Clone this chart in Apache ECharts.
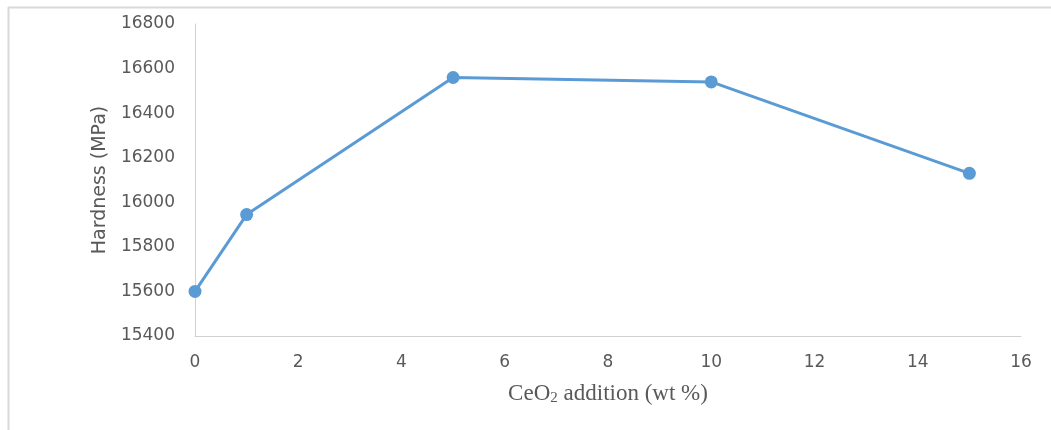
<!DOCTYPE html>
<html>
<head>
<meta charset="utf-8">
<script src="https://cdn.jsdelivr.net/npm/echarts@6/dist/echarts.min.js"></script>
<style>html,body{margin:0;padding:0;background:#fff;}#c{width:1051px;height:430px;}</style>
</head>
<body>
<div id="c"></div>
<script>
const ceo2 = [0, 1, 5, 10, 15];
const hardness = [15600, 15945, 16560, 16540, 16130];
const xTicks = [0, 2, 4, 6, 8, 10, 12, 14, 16];
const yTicks = [15400, 15600, 15800, 16000, 16200, 16400, 16600, 16800];

const chart = echarts.init(document.getElementById('c'));
chart.setOption({
  animation: false,
  backgroundColor: '#fff',
  graphic: [
    { type: 'line', shape: { x1: 8, y1: 7.5, x2: 1051, y2: 7.5 }, style: { stroke: '#d9d9d9', lineWidth: 2 } },
    { type: 'line', shape: { x1: 8.5, y1: 7, x2: 8.5, y2: 430 }, style: { stroke: '#d9d9d9', lineWidth: 2 } }
  ],
  grid: { left: 195, right: 30, top: 24, bottom: 94, containLabel: false },
  xAxis: {
    type: 'value',
    min: xTicks[0], max: xTicks[xTicks.length - 1], interval: 2,
    axisLine: { show: true, lineStyle: { color: '#d0d0d0', width: 1 } },
    axisTick: { show: false },
    splitLine: { show: false },
    axisLabel: { color: '#595959', fontFamily: 'DejaVu Sans', fontSize: 17, margin: 18, formatter: v => String(v) },
    name: 'CeO{sub|2} addition (wt %)',
    nameLocation: 'middle',
    nameGap: 45,
    nameTextStyle: {
      color: '#595959', fontFamily: 'Liberation Serif', fontSize: 23,
      rich: { sub: { fontFamily: 'Liberation Serif', fontSize: 15, color: '#595959', verticalAlign: 'bottom', padding: [10, 0, 0, 0] } }
    }
  },
  yAxis: {
    type: 'value',
    min: yTicks[0], max: yTicks[yTicks.length - 1], interval: 200,
    axisLine: { show: true, lineStyle: { color: '#d0d0d0', width: 1 } },
    axisTick: { show: false },
    splitLine: { show: false },
    axisLabel: { color: '#595959', fontFamily: 'DejaVu Sans', fontSize: 17, margin: 20, formatter: v => String(v) },
    name: 'Hardness (MPa)',
    nameLocation: 'middle',
    nameRotate: 90,
    nameGap: 85,
    nameTextStyle: { color: '#595959', fontFamily: 'DejaVu Sans', fontSize: 19 }
  },
  series: [{
    type: 'line',
    data: ceo2.map((x, i) => [x, hardness[i]]),
    symbol: 'circle',
    symbolSize: 13,
    lineStyle: { color: '#5B9BD5', width: 3 },
    itemStyle: { color: '#5B9BD5' }
  }]
});
</script>
</body>
</html>
